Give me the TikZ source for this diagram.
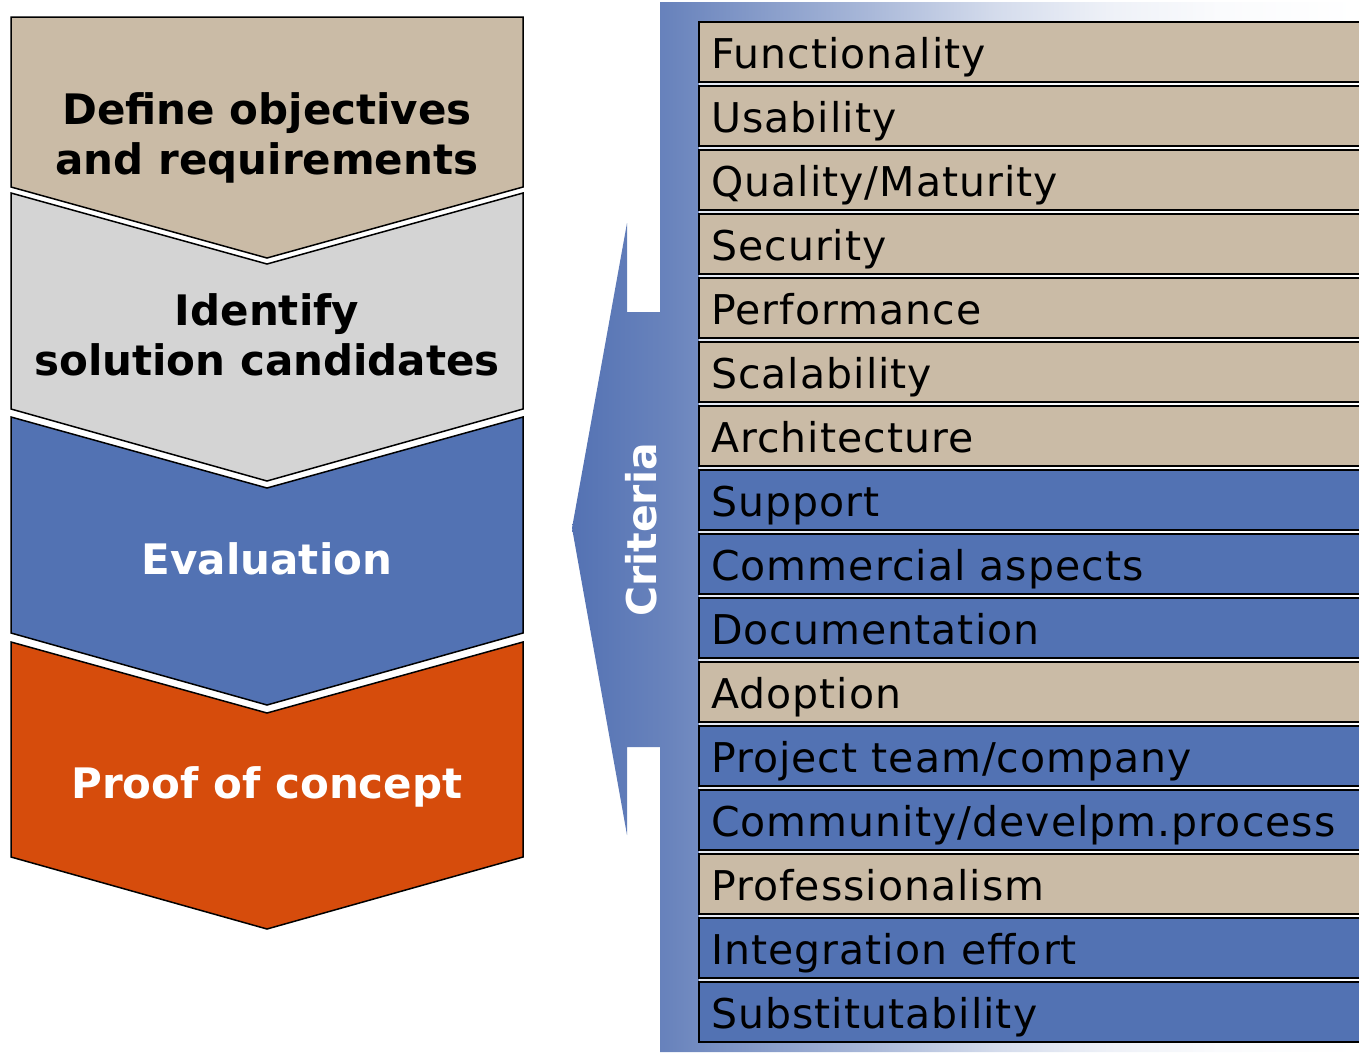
\documentclass[tikz,border=0pt]{standalone}
\usepackage{fontspec}
\setmainfont{DejaVu Sans}
\newfontfamily\rowfont[LetterSpace=2.5]{DejaVu Sans}
\definecolor{tanc}{HTML}{CABBA6}
\definecolor{grayc}{HTML}{D4D4D4}
\definecolor{bluec}{HTML}{5272B3}
\definecolor{orangec}{HTML}{D64C0C}
\definecolor{critblue}{HTML}{5472B3}
\colorlet{cs1}{critblue!88!white}
\colorlet{cs2}{critblue!50!white}
\colorlet{cs3}{critblue!25!white}
\colorlet{cs4}{critblue!10!white}
\colorlet{cs5}{critblue!3!white}
\pgfdeclarehorizontalshading{panelshade}{100bp}{color(0bp)=(critblue); color(25bp)=(critblue); color(31bp)=(cs1); color(44bp)=(cs2); color(52bp)=(cs3); color(59bp)=(cs4); color(66bp)=(cs5); color(75bp)=(white); color(100bp)=(white)}
\tikzset{
  chev/.style={draw=black, line width=1.5pt, line join=miter},
  rowbox/.style={draw=black, line width=1.6pt, minimum width=700pt, minimum height=60pt, inner sep=0pt, outer sep=0pt, anchor=north west},
  rowtext/.style={font=\rowfont\fontsize{41pt}{49pt}\selectfont, text=black, inner sep=0pt, anchor=base west},
  chevtext/.style={font=\bfseries\fontsize{42pt}{50pt}\selectfont, align=center, inner sep=0pt},
}
\begin{document}
\begin{tikzpicture}[x=1pt,y=-1pt]
\useasboundingbox (0,0) rectangle (1359,1052);
\clip (0,0) rectangle (1359,1052);
% criteria panel with arrow
\shade[shading=panelshade] (660,2) -- (1359,2) -- (1359,1052) -- (660,1052) -- (660,747) -- (627,747) -- (627,835) -- (572,528) -- (627,223) -- (627,312) -- (660,312) -- cycle;
\node[font=\bfseries\fontsize{41pt}{49pt}\selectfont, text=white, rotate=90, inner sep=0pt] (crit) at (641,530) {Criteria};
% gaps between rows
\foreach \i in {0,...,14} {
  \pgfmathsetmacro\yg{22+64*\i+60}
  \fill[white, opacity=0.8] (699,\yg) rectangle (1359,\yg+4);
}
% rows
\foreach \i/\t/\c in {0/Functionality/tanc, 1/Usability/tanc, 2/{Quality/Maturity}/tanc, 3/Security/tanc, 4/Performance/tanc, 5/Scalability/tanc, 6/Architecture/tanc, 7/Support/bluec, 8/Commercial aspects/bluec, 9/Documentation/bluec, 10/Adoption/tanc, 11/{Project team/company}/bluec, 12/{Community/develpm.process}/bluec, 13/Professionalism/tanc, 14/Integration effort/bluec, 15/Substitutability/bluec} {
  \pgfmathsetmacro\yt{22+64*\i}
  \node[rowbox, fill=\c] (row\i) at (699,\yt) {};
  \node[rowtext] (txt\i) at (711,\yt+46) {\t};
}
% chevrons
\draw[chev, fill=tanc] (11,17) -- (523,17) -- (523,187) -- (267,258) -- (11,187) -- cycle;
\draw[chev, fill=grayc] (11,193) -- (267,264) -- (523,193) -- (523,409) -- (267,481) -- (11,409) -- cycle;
\draw[chev, fill=bluec] (11,417) -- (267,488) -- (523,417) -- (523,633) -- (267,705) -- (11,633) -- cycle;
\draw[chev, fill=orangec] (11,642) -- (267,713) -- (523,642) -- (523,857) -- (267,929) -- (11,857) -- cycle;
\node[chevtext, text=black] (c1) at (267,138) {Define objectives\\and requirements};
\node[chevtext, text=black] (c2) at (267,335) {Identify\\solution candidates};
\node[chevtext, text=white] (c3) at (267,559) {Evaluation};
\node[chevtext, text=white] (c4) at (267,787) {Proof of concept};
\end{tikzpicture}
\end{document}
